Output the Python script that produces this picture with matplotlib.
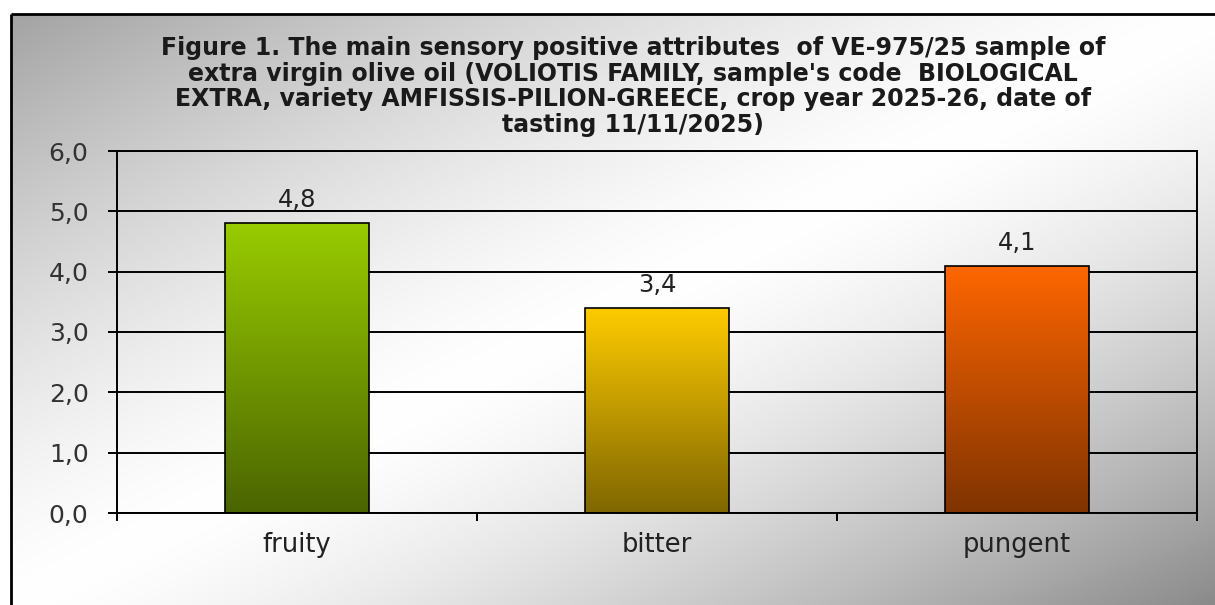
import numpy as np
import matplotlib
matplotlib.use("Agg")
import matplotlib.pyplot as plt
from matplotlib.colors import LinearSegmentedColormap, to_rgb

# ---- data ----
categories = ["fruity", "bitter", "pungent"]
values = [4.8, 3.4, 4.1]
value_labels = ["4,8", "3,4", "4,1"]
yticks = [0, 1, 2, 3, 4, 5, 6]
ytick_labels = ["0,0", "1,0", "2,0", "3,0", "4,0", "5,0", "6,0"]
top_colors = ["#99cc00", "#ffcc00", "#ff6600"]
bottom_colors = ["#4a6400", "#7f6600", "#7f3300"]
title = ("Figure 1. The main sensory positive attributes  of VE-975/25 sample of\n"
         "extra virgin olive oil (VOLIOTIS FAMILY, sample's code  BIOLOGICAL\n"
         "EXTRA, variety AMFISSIS-PILION-GREECE, crop year 2025-26, date of\n"
         "tasting 11/11/2025)")

W, H = 1215, 605
fig = plt.figure(figsize=(W / 100, H / 100), dpi=100)
fig.patch.set_facecolor("white")

# ---- background gradient (diagonal) ----
bg = fig.add_axes([0, 0, 1, 1], zorder=-10)
bg.set_xlim(0, W)
bg.set_ylim(H, 0)
bg.axis("off")
xx, yy = np.meshgrid(np.linspace(0, 1, 400), np.linspace(0, 1, 200))
t = xx + yy - 1.0
k = np.where(t < 0, 0.36, 0.46)
g = 1.0 - k * np.abs(t) ** 1.4
img = np.dstack([g, g, g])
bg.imshow(img, extent=(11, W + 2, H + 2, 14), aspect="auto", interpolation="bilinear", zorder=0)
bg.plot([11, W + 2], [14, 14], color="black", lw=2.0, zorder=1, solid_capstyle="butt")
bg.plot([11, 11], [14, H + 2], color="black", lw=2.0, zorder=1, solid_capstyle="butt")

# ---- main axes ----
left, right, top, bottom = 117, 1197, 151, 513
ax = fig.add_axes([left / W, (H - bottom) / H, (right - left) / W, (bottom - top) / H])
ax.set_facecolor("none")
ax.set_xlim(-0.5, 2.5)
ax.set_ylim(0, 6)

x = np.arange(len(categories))
bars = ax.bar(x, values, width=0.4, facecolor="none", edgecolor="black", linewidth=1.2, zorder=3)
for b, tc, bc in zip(bars, top_colors, bottom_colors):
    cmap = LinearSegmentedColormap.from_list("g", [to_rgb(bc), to_rgb(tc)])
    grad = np.linspace(0, 1, 256).reshape(-1, 1)
    x0, w, h = b.get_x(), b.get_width(), b.get_height()
    im = ax.imshow(grad, cmap=cmap, origin="lower", aspect="auto",
                   extent=(x0, x0 + w, 0, h), zorder=2, interpolation="bilinear")
    im.set_clip_path(b)

for xi, v, lab in zip(x, values, value_labels):
    ax.annotate(lab, (xi, v), xytext=(0, 8), textcoords="offset points",
                ha="center", va="bottom", fontsize=17.5, color="#222222",
                family="DejaVu Sans")

ax.set_yticks(yticks)
ax.set_yticklabels(ytick_labels)
ax.yaxis.grid(True, color="black", linewidth=1.4, zorder=1)
ax.set_axisbelow(True)
ax.tick_params(axis="y", which="major", direction="out", length=6.5, width=1.4,
               pad=14, labelsize=18, colors="black")
ax.tick_params(axis="y", labelcolor="#333333")

ax.set_xticks(x)
ax.set_xticklabels(categories)
ax.set_xticks([-0.5, 0.5, 1.5, 2.5], minor=True)
ax.tick_params(axis="x", which="major", length=0, pad=14, labelsize=18.5, labelcolor="#222222")
ax.tick_params(axis="x", which="minor", direction="out", length=6, width=1.4, color="black")

for s in ax.spines.values():
    s.set_color("black")
    s.set_linewidth(1.4)

fig.text(633 / W, 1 - 36 / H, title, ha="center", va="top", fontsize=17,
         fontweight="bold", color="#1a1a1a", linespacing=1.08, family="DejaVu Sans")

fig.savefig("out.png", dpi=100)
